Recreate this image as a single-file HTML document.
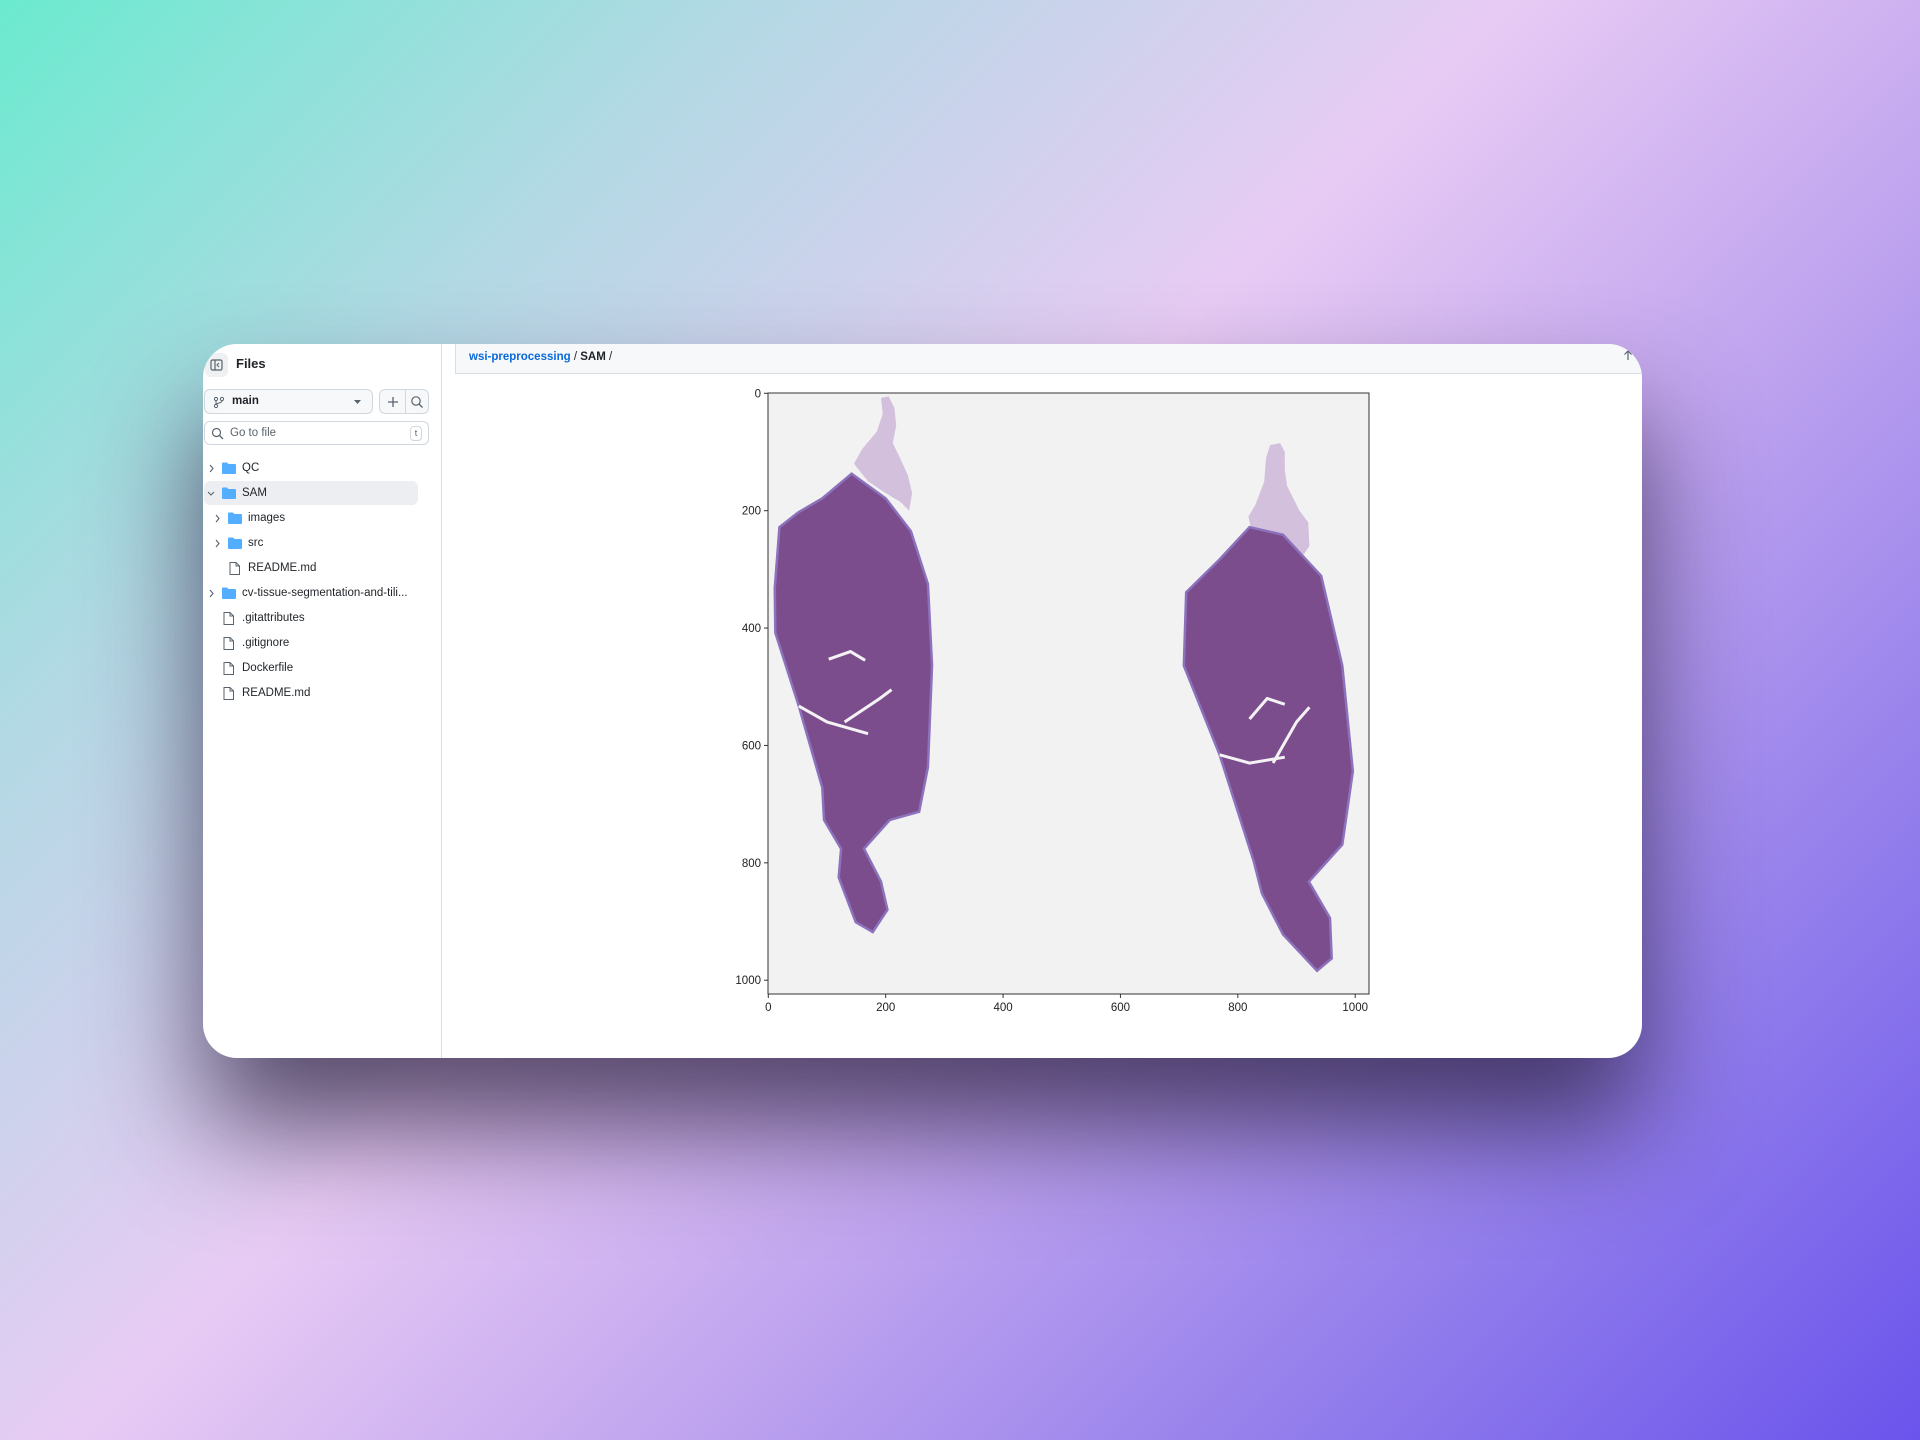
<!DOCTYPE html>
<html><head><meta charset="utf-8"><style>
*{box-sizing:border-box;margin:0;padding:0}
body{width:1920px;height:1440px;overflow:hidden;position:relative;font-family:"Liberation Sans",sans-serif;
background:linear-gradient(135deg,#6beacf 0%,#b2d9e4 22%,#e8cbf4 45%,#c2a6ef 62%,#9580ec 80%,#6a54ec 100%)}
.card{position:absolute;left:203px;top:344px;width:1439px;height:714px;background:#fff;border-radius:34px;overflow:hidden;box-shadow:0 70px 110px rgba(35,25,55,0.72)}
.abs{position:absolute}
.side{left:0;top:0;width:239px;height:714px;border-right:1px solid #d8dee4}
.hdr{left:252px;top:0;width:1187px;height:30px;background:#f6f8fa;border-bottom:1px solid #d8dee4;border-left:1px solid #d8dee4}
.gap{left:239px;top:0;width:13px;height:714px;background:#fff}
.row{position:absolute;font-size:11.5px;color:#1f2328;height:25px;line-height:25px}
.btn{position:absolute;border:1px solid #d0d7de;border-radius:6px;background:#f6f8fa}
</style></head><body>
<div class="card">
 <div class="abs side">
  <div class="abs" style="left:2px;top:9px;width:23px;height:24px;background:#eef0f2;border-radius:6px">
   <svg width="23" height="24"><rect x="6" y="7" width="11" height="10" rx="1.5" fill="none" stroke="#59636e" stroke-width="1.2"/><line x1="10" y1="7" x2="10" y2="17" stroke="#59636e" stroke-width="1.2"/><path d="M14 10l-2 2 2 2" fill="none" stroke="#59636e" stroke-width="1"/></svg>
  </div>
  <div class="abs" style="left:33px;top:12px;font-size:13px;font-weight:bold;color:#1f2328">Files</div>
  <div class="btn" style="left:1px;top:45px;width:169px;height:25px">
   <svg class="abs" style="left:8px;top:6px" width="12" height="13"><circle cx="3" cy="3" r="1.6" fill="none" stroke="#59636e"/><circle cx="3" cy="10" r="1.6" fill="none" stroke="#59636e"/><circle cx="9" cy="3" r="1.6" fill="none" stroke="#59636e"/><path d="M3 4.6v3.8M9 4.6c0 3-6 2-6 4" fill="none" stroke="#59636e"/></svg>
   <span class="abs" style="left:27px;top:5px;font-size:11.5px;font-weight:bold;color:#1f2328">main</span>
   <svg class="abs" style="left:149px;top:10px" width="8" height="5"><path d="M0 0h7L3.5 4z" fill="#59636e"/></svg>
  </div>
  <div class="btn" style="left:176px;top:45px;width:50px;height:25px">
   <div class="abs" style="left:25px;top:0;width:1px;height:23px;background:#d0d7de"></div>
   <svg class="abs" style="left:6px;top:5px" width="14" height="14"><path d="M7 2v10M2 7h10" stroke="#59636e" stroke-width="1.3"/></svg>
   <svg class="abs" style="left:30px;top:5px" width="14" height="14"><circle cx="6" cy="6" r="4.2" fill="none" stroke="#59636e" stroke-width="1.2"/><path d="M9 9l3.5 3.5" stroke="#59636e" stroke-width="1.3"/></svg>
  </div>
  <div class="abs" style="left:1px;top:77px;width:225px;height:24px;border:1px solid #d0d7de;border-radius:6px;background:#fff">
   <svg class="abs" style="left:6px;top:5px" width="13" height="13"><circle cx="5.5" cy="5.5" r="4" fill="none" stroke="#59636e" stroke-width="1.2"/><path d="M8.5 8.5l3.5 3.5" stroke="#59636e" stroke-width="1.3"/></svg>
   <span class="abs" style="left:25px;top:5px;font-size:11.5px;color:#59636e">Go to file</span>
   <span class="abs" style="left:205px;top:4px;width:12px;height:15px;border:1px solid #d0d7de;border-radius:4px;font-size:9px;color:#59636e;text-align:center;line-height:13px">t</span>
  </div>
  <div class="abs" style="left:1px;top:137px;width:214px;height:24px;background:#eceef1;border-radius:6px"></div>
  <div id="tree"></div>
 </div>
 <div class="abs gap"></div>
 <div class="abs hdr">
  <div class="abs" style="left:13px;top:7px;font-size:11.5px;color:#1f2328"><span style="color:#0969da;font-weight:bold">wsi-preprocessing</span> / <b>SAM</b> /</div>
  <svg class="abs" style="left:1166px;top:5px" width="12" height="12"><path d="M6 11V2M2.5 5.5L6 2l3.5 3.5" fill="none" stroke="#59636e" stroke-width="1.2"/></svg>
 </div>
</div>
<svg id="plot" class="abs" style="left:0;top:0" width="1920" height="1440"></svg>
<script>
const treeItems=[["QC",0,"folder","closed"],["SAM",0,"folder","open"],["images",1,"folder","closed"],["src",1,"folder","closed"],["README.md",1,"file",""],["cv-tissue-segmentation-and-tili...",0,"folder","closed"],[".gitattributes",0,"file",""],[".gitignore",0,"file",""],["Dockerfile",0,"file",""],["README.md",0,"file",""]];
const tree=document.getElementById('tree');
treeItems.forEach((t,i)=>{
 const d=document.createElement('div');d.className='row';
 
 
 const y=112+i*25, ind=t[1]*6;
 d.style.top=y+'px';d.style.left='0px';d.style.width='230px';
 let h='';
 if(t[2]==='folder'){
  h+= t[3]==='open'?`<svg style="position:absolute;left:${4+ind}px;top:10px" width="8" height="6"><path d="M1 1l3 3 3-3" fill="none" stroke="#59636e" stroke-width="1.1"/></svg>`:`<svg style="position:absolute;left:${6+ind}px;top:8px" width="6" height="9"><path d="M1 1l3 3.5-3 3.5" fill="none" stroke="#59636e" stroke-width="1.1"/></svg>`;
  h+=`<svg style="position:absolute;left:${19+ind}px;top:6px" width="14" height="12"><path d="M0 1.5a1 1 0 011-1h4l1.5 1.5h6.5a1 1 0 011 1v8a1 1 0 01-1 1H1a1 1 0 01-1-1z" fill="#54aeff"/></svg>`;
 } else {
  h+=`<svg style="position:absolute;left:${20+ind}px;top:6px" width="11" height="13"><path d="M1 .5h6l3.5 3.5v8.5H1z M7 .5v3.5h3.5" fill="none" stroke="#59636e" stroke-width="1"/></svg>`;
 }
 h+=`<span style="position:absolute;left:${39+ind}px;top:0;white-space:nowrap">${t[0]}</span>`;
 d.innerHTML=h;tree.appendChild(d);
});

const xTicks=[0,200,400,600,800,1000];
const yTicks=[0,200,400,600,800,1000];
const imgSize=[1024,1024];
const leftTissue=[[142,137],[92,179],[51,203],[19,228],[11,332],[12,408],[52,533],[92,672],[95,727],[124,776],[120,825],[149,901],[178,918],[203,880],[192,832],[163,776],[207,727],[257,713],[272,637],[279,464],[272,325],[243,235],[200,179]];
const leftFringe=[[146,120],[160,95],[185,65],[195,35],[192,8],[205,5],[215,25],[218,55],[212,85],[222,105],[238,140],[245,170],[240,200],[225,185],[200,170],[170,150]];
const rightTissue=[[820,228],[769,283],[712,339],[708,464],[769,616],[827,797],[841,852],[877,922],[935,984],[960,963],[957,894],[921,832],[978,769],[996,644],[978,464],[942,311],[877,241]];
const rightFringe=[[818,210],[830,190],[845,150],[848,110],[855,88],[872,85],[880,100],[880,130],[884,158],[905,200],[920,220],[922,260],[912,275],[890,255],[850,240],[822,228]];
const breaks=[[[52,533],[100,560],[170,580]],[[130,560],[190,520],[210,505]],[[103,453],[140,440],[165,455]],[[769,616],[820,630],[880,620]],[[860,630],[900,560],[922,535]],[[820,555],[850,520],[880,530]]];
const X0=768,X1=1369,Y0=393,Y1=994;
const sx=v=>X0+(v+0.5)/imgSize[0]*(X1-X0);
const sy=v=>Y0+(v+0.5)/imgSize[1]*(Y1-Y0);
const svg=document.getElementById('plot');const NS='http://www.w3.org/2000/svg';
function mk(tag,attrs,name){const e=document.createElementNS(NS,tag);for(const k in attrs)e.setAttribute(k,attrs[k]);
 
 
 svg.appendChild(e);return e;}
mk('rect',{x:X0,y:Y0,width:X1-X0,height:Y1-Y0,fill:'#f2f2f3'},'image-background');
const pts=a=>a.map(p=>sx(p[0])+','+sy(p[1])).join(' ');
mk('polygon',{points:pts(leftFringe),fill:'#d3c0dd'},'left-tissue-fringe');
mk('polygon',{points:pts(rightFringe),fill:'#d3c0dd'},'right-tissue-fringe');
mk('polygon',{points:pts(leftTissue),fill:'#7c4d8c',stroke:'#8c72bd','stroke-width':2.5},'left-tissue');
mk('polygon',{points:pts(rightTissue),fill:'#7c4d8c',stroke:'#8c72bd','stroke-width':2.5},'right-tissue');
breaks.forEach((b,i)=>mk('polyline',{points:pts(b),fill:'none',stroke:'#f4f2f5','stroke-width':3},'tissue-gap-'+i));
mk('rect',{x:X0,y:Y0,width:X1-X0,height:Y1-Y0,fill:'none',stroke:'#333','stroke-width':1},'plot-frame');
xTicks.forEach(v=>{const x=sx(v);
 mk('line',{x1:x,x2:x,y1:Y1,y2:Y1+4,stroke:'#333'},'x-tick-'+v);
 const t=mk('text',{x:x,y:Y1+17,'text-anchor':'middle','font-size':11.5,fill:'#222','font-family':'Liberation Sans'},'x-tick-label-'+v);t.textContent=v;});
yTicks.forEach(v=>{const y=sy(v);
 mk('line',{x1:X0-4,x2:X0,y1:y,y2:y,stroke:'#333'},'y-tick-'+v);
 const t=mk('text',{x:X0-7,y:y+4,'text-anchor':'end','font-size':11.5,fill:'#222','font-family':'Liberation Sans'},'y-tick-label-'+v);t.textContent=v;});
</script>
</body></html>
